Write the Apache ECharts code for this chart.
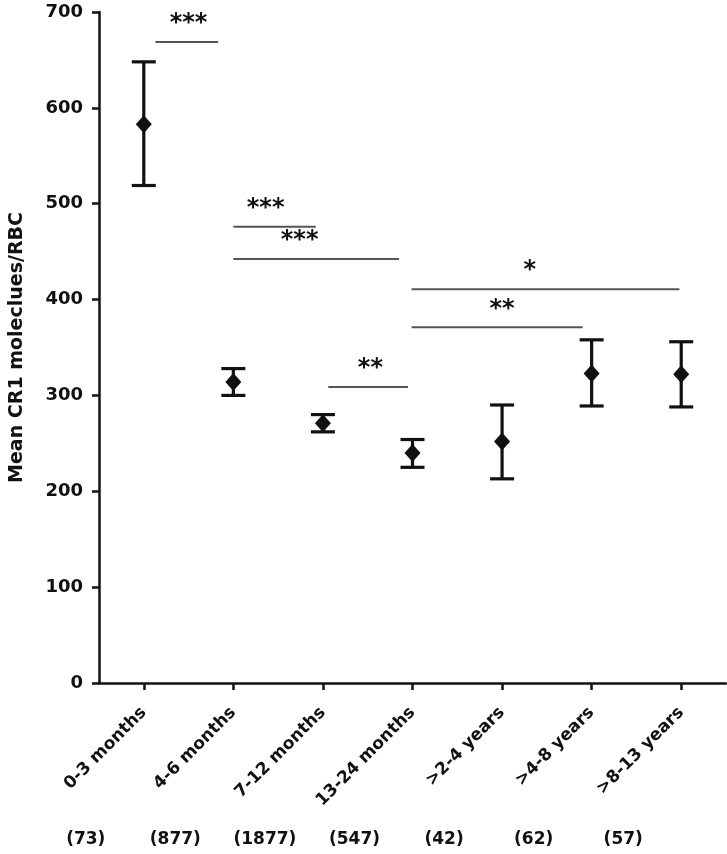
<!DOCTYPE html>
<html>
<head>
<meta charset="utf-8">
<script src="https://cdn.jsdelivr.net/npm/echarts@6/dist/echarts.min.js"></script>
<style>
html,body{margin:0;padding:0;background:#fff;}
#chart{width:727px;height:854px;}
</style>
</head>
<body>
<div id="chart"></div>
<script>
// ---- data ----
const categories = ['0-3 months', '4-6 months', '7-12 months', '13-24 months', '>2-4 years', '>4-8 years', '>8-13 years'];
const means  = [583, 314, 271, 240, 252, 323, 322];
const lowers = [519, 300, 262, 225, 213, 289, 288];
const uppers = [648, 328, 280, 254, 290, 358, 356];
const counts = ['(73)', '(877)', '(1877)', '(547)', '(42)', '(62)', '(57)'];
const yTicks = [0, 100, 200, 300, 400, 500, 600, 700];

// significance brackets (x in category units)
const bracketStart = [0.13, 1.0, 1.0, 2.06, 2.99, 2.99];
const bracketEnd   = [0.83, 1.92, 2.85, 2.95, 5.98, 4.90];
const bracketY     = [668.6, 476, 442.4, 308.8, 410.8, 371.1];
const bracketText  = ['***', '***', '***', '**', '*', '**'];
const bracketTextX = [0.50, 1.36, 1.74, 2.53, 4.31, 4.00];

const FONT = 'DejaVu Sans';
const INK = '#111';

const chart = echarts.init(document.getElementById('chart'), null, {renderer: 'canvas'});

const errData = means.map((m, i) => [i, m, lowers[i], uppers[i]]);
const brData = bracketStart.map((s, i) => [s, bracketEnd[i], bracketY[i], bracketTextX[i]]);

const option = {
  backgroundColor: '#fff',
  animation: false,
  grid: {left: 98, top: 12, width: 628, height: 671, containLabel: false},
  xAxis: [
    {
      type: 'category',
      data: categories,
      boundaryGap: true,
      axisLine: {show: true, onZero: false, lineStyle: {color: INK, width: 2.5}},
      axisTick: {show: true, alignWithLabel: true, length: 7, lineStyle: {color: INK, width: 2.5}},
      axisLabel: {interval: 0, rotate: 45, margin: 27, color: INK, fontFamily: FONT, fontWeight: 'bold', fontSize: 17},
      splitLine: {show: false}
    },
    {
      type: 'category',
      data: counts,
      position: 'bottom',
      axisLine: {show: false, onZero: false},
      axisTick: {show: false},
      axisLabel: {interval: 0, margin: 148, color: INK, fontFamily: FONT, fontWeight: 'bold', fontSize: 17, padding: [0, 116, 0, 0]},
      splitLine: {show: false}
    },
    {
      type: 'value',
      min: -0.5, max: 6.5,
      show: false
    }
  ],
  yAxis: {
    type: 'value',
    min: yTicks[0], max: yTicks[yTicks.length - 1], interval: 100,
    name: 'Mean CR1 moleclues/RBC',
    nameLocation: 'middle',
    nameGap: 72,
    nameTextStyle: {color: INK, fontFamily: FONT, fontWeight: 'bold', fontSize: 19},
    axisLine: {show: true, onZero: false, lineStyle: {color: INK, width: 2.5}},
    axisTick: {show: true, length: 7, lineStyle: {color: INK, width: 2.5}},
    axisLabel: {margin: 16, color: INK, fontFamily: FONT, fontWeight: 'bold', fontSize: 18},
    splitLine: {show: false}
  },
  series: [
    {
      type: 'custom',
      xAxisIndex: 0,
      yAxisIndex: 0,
      data: errData,
      renderItem: function (params, api) {
        const c = api.coord([api.value(0), api.value(1)]);
        const lo = api.coord([api.value(0), api.value(2)]);
        const hi = api.coord([api.value(0), api.value(3)]);
        const cw = 12, dw = 8, dh = 9;
        const st = {stroke: INK, lineWidth: 3.2};
        return {
          type: 'group',
          children: [
            {type: 'line', shape: {x1: c[0], y1: hi[1], x2: c[0], y2: lo[1]}, style: st},
            {type: 'line', shape: {x1: c[0] - cw, y1: hi[1], x2: c[0] + cw, y2: hi[1]}, style: st},
            {type: 'line', shape: {x1: c[0] - cw, y1: lo[1], x2: c[0] + cw, y2: lo[1]}, style: st},
            {type: 'polygon', shape: {points: [[c[0], c[1] - dh], [c[0] + dw, c[1]], [c[0], c[1] + dh], [c[0] - dw, c[1]]]}, style: {fill: INK}}
          ]
        };
      },
      z: 5
    },
    {
      type: 'custom',
      xAxisIndex: 2,
      yAxisIndex: 0,
      data: brData,
      renderItem: function (params, api) {
        const a = api.coord([api.value(0), api.value(2)]);
        const b = api.coord([api.value(1), api.value(2)]);
        const t = api.coord([api.value(3), api.value(2)]);
        return {
          type: 'group',
          children: [
            {type: 'line', shape: {x1: a[0], y1: a[1], x2: b[0], y2: b[1]}, style: {stroke: '#555', lineWidth: 2}},
            {type: 'text', x: t[0], y: t[1] - 6, style: {text: bracketText[params.dataIndex], fill: INK, font: 'bold 24px "DejaVu Sans"', align: 'center', verticalAlign: 'bottom'}}
          ]
        };
      },
      z: 4
    }
  ]
};
chart.setOption(option);
</script>
</body>
</html>
